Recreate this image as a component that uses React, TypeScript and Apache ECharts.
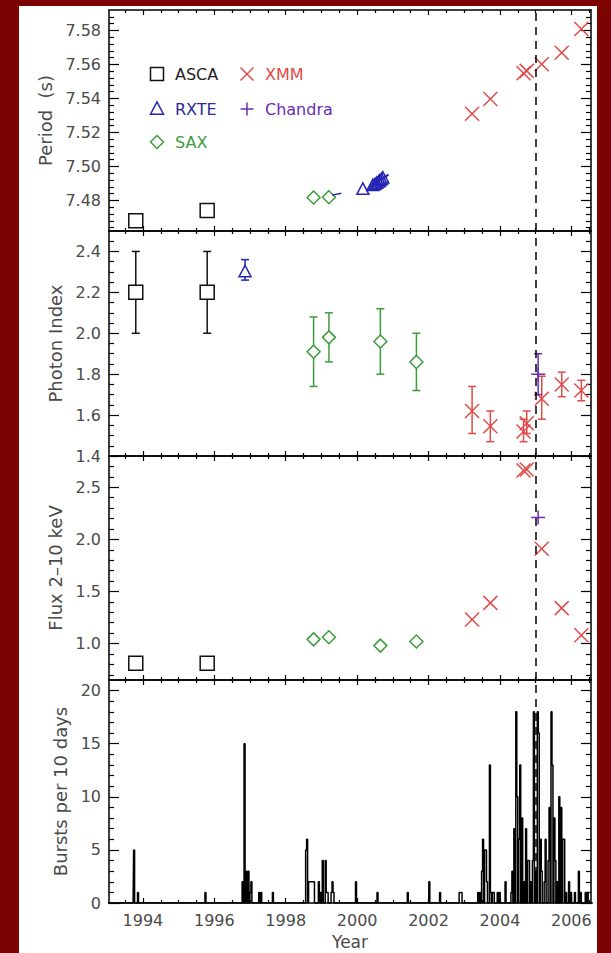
import React, { useEffect, useRef } from "react";
import * as echarts from "echarts";

// ---------- axes ----------
const YEAR_MIN = 1993.05;
const YEAR_MAX = 2006.55;
const FLARE_YEAR = 2004.99;
const yearTicks = [1994, 1996, 1998, 2000, 2002, 2004, 2006];
const yearMinorTicks = [1993.5, 1994.5, 1995, 1995.5, 1996.5, 1997, 1997.5, 1998.5, 1999, 1999.5, 2000.5, 2001, 2001.5, 2002.5, 2003, 2003.5, 2004.5, 2005, 2005.5, 2006.5];

const periodRange = [7.462, 7.592];
const periodTicks = [7.48, 7.5, 7.52, 7.54, 7.56, 7.58];
const periodMinor = [7.464, 7.468, 7.472, 7.476, 7.484, 7.488, 7.492, 7.496, 7.504, 7.508, 7.512, 7.516, 7.524, 7.528, 7.532, 7.536, 7.544, 7.548, 7.552, 7.556, 7.564, 7.568, 7.572, 7.576, 7.584, 7.588];

const indexRange = [1.4, 2.5];
const indexTicks = [1.4, 1.6, 1.8, 2.0, 2.2, 2.4];
const indexMinor = [1.45, 1.5, 1.55, 1.65, 1.7, 1.75, 1.85, 1.9, 1.95, 2.05, 2.1, 2.15, 2.25, 2.3, 2.35, 2.45];

const fluxRange = [0.65, 2.8];
const fluxTicks = [1.0, 1.5, 2.0, 2.5];
const fluxMinor = [0.7, 0.8, 0.9, 1.1, 1.2, 1.3, 1.4, 1.6, 1.7, 1.8, 1.9, 2.1, 2.2, 2.3, 2.4, 2.6, 2.7];

const burstRange = [0, 21];
const burstTicks = [0, 5, 10, 15, 20];
const burstMinor = [1, 2, 3, 4, 6, 7, 8, 9, 11, 12, 13, 14, 16, 17, 18, 19];

// ---------- data ----------
// ASCA
const ascaYears = [1993.8, 1995.8];
const ascaPeriod = [7.468, 7.474];
const ascaIndex = [2.2, 2.2];
const ascaIndexLo = [2.0, 2.0];
const ascaIndexHi = [2.4, 2.4];
const ascaFlux = [0.81, 0.81];

// RXTE
const rxtePeriodYears = [2000.16, 2000.44, 2000.5, 2000.55, 2000.6, 2000.64, 2000.68, 2000.72];
const rxtePeriod = [7.4864, 7.4886, 7.4893, 7.49, 7.4907, 7.4914, 7.4922, 7.493];
const rxteFitA = [[1999.3, 7.4831], [1999.56, 7.4842]];
const rxteFitB = [[2000.35, 7.4878], [2000.88, 7.4952]];
const rxteIndexYears = [1996.86];
const rxteIndex = [2.3];
const rxteIndexLo = [2.26];
const rxteIndexHi = [2.36];

// SAX
const saxPeriodYears = [1998.78, 1999.21];
const saxPeriod = [7.4817, 7.4819];
const saxYears = [1998.78, 1999.21, 2000.65, 2001.66];
const saxIndex = [1.91, 1.98, 1.96, 1.86];
const saxIndexLo = [1.74, 1.86, 1.8, 1.72];
const saxIndexHi = [2.08, 2.1, 2.12, 2.0];
const saxFlux = [1.04, 1.06, 0.98, 1.02];

// XMM
const xmmYears = [2003.22, 2003.73, 2004.66, 2004.75, 2005.17, 2005.73, 2006.28];
const xmmPeriod = [7.531, 7.5397, 7.5548, 7.5562, 7.5601, 7.5668, 7.5808];
const xmmIndex = [1.62, 1.545, 1.52, 1.56, 1.68, 1.75, 1.72];
const xmmIndexLo = [1.51, 1.47, 1.47, 1.51, 1.58, 1.69, 1.67];
const xmmIndexHi = [1.74, 1.62, 1.58, 1.62, 1.79, 1.81, 1.77];
const xmmFlux = [1.23, 1.39, 2.66, 2.67, 1.91, 1.34, 1.08];

// Chandra
const chandraYears = [2005.07];
const chandraIndex = [1.8];
const chandraIndexLo = [1.7];
const chandraIndexHi = [1.9];
const chandraFlux = [2.21];

// Bursts per 10-day bin (non-empty bins)
const BIN_START = 1993.0;
const BIN_DAYS = 10;
const burstYears = [
  1993.75, 1993.86,
  1995.75,
  1996.78, 1996.84, 1996.89, 1996.95, 1997.0, 1997.05,
  1997.25, 1997.3,
  1997.65,
  1998.56, 1998.6, 1998.64, 1998.67, 1998.7, 1998.73, 1998.76, 1998.79,
  1998.93, 1998.97,
  1999.05, 1999.11, 1999.14, 1999.18,
  1999.27, 1999.31, 1999.35,
  1999.98,
  2000.57,
  2001.42,
  2002.02,
  2002.32,
  2002.86, 2002.89, 2002.92,
  2003.4, 2003.44, 2003.49, 2003.53, 2003.58, 2003.62, 2003.65, 2003.71, 2003.75, 2003.8, 2003.84, 2003.95, 2003.98,
  2004.17,
  2004.31, 2004.36, 2004.41, 2004.45, 2004.49, 2004.54, 2004.58, 2004.62, 2004.67, 2004.72,
  2004.78, 2004.82, 2004.87, 2004.91, 2004.96, 2005.01, 2005.05, 2005.09, 2005.14, 2005.18,
  2005.24, 2005.29, 2005.35, 2005.39, 2005.43, 2005.48, 2005.52, 2005.56, 2005.62, 2005.67,
  2005.72, 2005.76, 2005.81, 2005.85, 2005.95, 2006.0, 2006.11, 2006.22, 2006.26, 2006.41,
  2006.45,
];
const burstCounts = [
  5, 1,
  1,
  2, 15, 3, 3, 1, 2,
  1, 1,
  1,
  5, 6, 2, 2, 2, 2, 2, 2,
  2, 1,
  4, 4, 1, 1,
  1, 2, 1,
  2,
  1,
  1,
  2,
  1,
  1, 1, 1,
  1, 1, 3, 6, 5, 5, 2, 13, 1, 1, 1, 1, 1,
  2,
  1, 3, 7, 18, 10, 6, 13, 8, 2, 7,
  4, 4, 2, 4, 18, 3, 18, 16, 6, 3,
  2, 6, 4, 9, 18, 13, 8, 4, 2, 10,
  9, 6, 6, 1, 2, 1, 1, 3, 1, 1,
  1,
];

// ---------- style ----------
const FONT = '"DejaVu Sans", sans-serif';
const TXT = "#4a4a4a";
const C_ASCA = "#111111";
const C_RXTE = "#2424b4";
const C_SAX = "#3c9c3c";
const C_XMM = "#e04a4a";
const C_CHANDRA = "#6c2cb4";

function markerChildren(shape: string, cx: number, cy: number, size: number, color: string, fill: string) {
  const h = size / 2;
  const style = { fill, stroke: color, lineWidth: 1.5 };
  const ls = { stroke: color, lineWidth: 1.5 };
  switch (shape) {
    case "square":
      return [{ type: "rect", shape: { x: cx - h, y: cy - h, width: size, height: size }, style }];
    case "triangle":
      return [{ type: "polygon", shape: { points: [[cx, cy - h * 1.1], [cx + h, cy + h * 0.8], [cx - h, cy + h * 0.8]] }, style }];
    case "diamond":
      return [{ type: "polygon", shape: { points: [[cx, cy - h], [cx + h, cy], [cx, cy + h], [cx - h, cy]] }, style }];
    case "cross":
      return [
        { type: "line", shape: { x1: cx - h, y1: cy - h, x2: cx + h, y2: cy + h }, style: ls },
        { type: "line", shape: { x1: cx - h, y1: cy + h, x2: cx + h, y2: cy - h }, style: ls },
      ];
    default:
      return [
        { type: "line", shape: { x1: cx - h, y1: cy, x2: cx + h, y2: cy }, style: ls },
        { type: "line", shape: { x1: cx, y1: cy - h, x2: cx, y2: cy + h }, style: ls },
      ];
  }
}

function pointSeries(name: string, g: number, shape: string, color: string, size: number,
  xs: number[], ys: number[], lo?: number[], hi?: number[], extra?: any) {
  const data = xs.map((x, i) => (lo && hi ? [x, ys[i], lo[i], hi[i]] : [x, ys[i]]));
  return {
    type: "custom",
    name,
    xAxisIndex: 4 * g,
    yAxisIndex: 4 * g,
    data,
    clip: true,
    encode: { x: 0, y: 1 },
    renderItem: (params: any, api: any) => {
      const x = api.value(0);
      const y = api.value(1);
      const p = api.coord([x, y]);
      const children: any[] = [];
      const hasErr = !!(lo && hi);
      if (hasErr) {
        const a = api.coord([x, api.value(2)]);
        const b = api.coord([x, api.value(3)]);
        const es = { stroke: color, lineWidth: 1.5 };
        children.push({ type: "line", shape: { x1: a[0], y1: a[1], x2: b[0], y2: b[1] }, style: es });
        children.push({ type: "line", shape: { x1: a[0] - 4, y1: a[1], x2: a[0] + 4, y2: a[1] }, style: es });
        children.push({ type: "line", shape: { x1: b[0] - 4, y1: b[1], x2: b[0] + 4, y2: b[1] }, style: es });
      }
      children.push(...markerChildren(shape, p[0], p[1], size, color, hasErr ? "#ffffff" : "none"));
      return { type: "group", children };
    },
    ...(extra || {}),
  };
}

const flareMark = {
  silent: true,
  symbol: "none",
  label: { show: false },
  lineStyle: { type: [8, 6], color: "#000", width: 1.5 },
  data: [{ xAxis: FLARE_YEAR }],
};

const gridBoxes = [
  { top: 10, height: 221 },
  { top: 231, height: 225 },
  { top: 456, height: 224 },
  { top: 680, height: 223 },
];

const lineBlack = { color: "#000", width: 1.5 };
const tickStyle = { color: "#000", width: 1.2 };

function xAxesFor(g: number, showLabels: boolean) {
  const base = { gridIndex: g, type: "value", min: YEAR_MIN, max: YEAR_MAX, splitLine: { show: false } };
  return [
    {
      ...base,
      position: "bottom",
      axisLine: { show: true, onZero: false, lineStyle: lineBlack },
      axisTick: { show: true, inside: true, length: 5, customValues: yearTicks, lineStyle: tickStyle },
      axisLabel: showLabels
        ? {
            show: true, customValues: yearTicks, margin: 9, color: TXT, fontSize: 16, fontFamily: FONT,
            formatter: (v: number) => String(Math.round(v)),
          }
        : { show: false },
      name: showLabels ? "Year" : "",
      nameLocation: "middle",
      nameGap: 30,
      nameTextStyle: { color: TXT, fontSize: 17, fontFamily: FONT },
    },
    {
      ...base,
      position: "bottom",
      axisLine: { show: false, onZero: false },
      axisTick: { show: true, inside: true, length: 3, customValues: yearMinorTicks, lineStyle: tickStyle },
      axisLabel: { show: false },
    },
    {
      ...base,
      position: "top",
      axisLine: { show: true, onZero: false, lineStyle: lineBlack },
      axisTick: { show: true, inside: true, length: 5, customValues: yearTicks, lineStyle: tickStyle },
      axisLabel: { show: false },
    },
    {
      ...base,
      position: "top",
      axisLine: { show: false, onZero: false },
      axisTick: { show: true, inside: true, length: 3, customValues: yearMinorTicks, lineStyle: tickStyle },
      axisLabel: { show: false },
    },
  ];
}

function yAxesFor(g: number, range: number[], major: number[], minor: number[], name: string, nameGap: number) {
  const base = { gridIndex: g, type: "value", min: range[0], max: range[1], splitLine: { show: false } };
  return [
    {
      ...base,
      position: "left",
      axisLine: { show: true, onZero: false, lineStyle: lineBlack },
      axisTick: { show: true, inside: true, length: 10, customValues: major, lineStyle: tickStyle },
      axisLabel: {
        show: true, customValues: major, margin: 8, color: TXT, fontSize: 16, fontFamily: FONT,
        formatter: (v: number) => (g === 3 ? String(Math.round(v)) : g === 0 ? v.toFixed(2) : v.toFixed(1)),
      },
      name,
      nameLocation: "middle",
      nameGap,
      nameTextStyle: { color: TXT, fontSize: 18, fontFamily: FONT },
    },
    {
      ...base,
      position: "left",
      axisLine: { show: false, onZero: false },
      axisTick: { show: true, inside: true, length: 5, customValues: minor, lineStyle: tickStyle },
      axisLabel: { show: false },
    },
    {
      ...base,
      position: "right",
      axisLine: { show: true, onZero: false, lineStyle: lineBlack },
      axisTick: { show: true, inside: true, length: 10, customValues: major, lineStyle: tickStyle },
      axisLabel: { show: false },
    },
    {
      ...base,
      position: "right",
      axisLine: { show: false, onZero: false },
      axisTick: { show: true, inside: true, length: 5, customValues: minor, lineStyle: tickStyle },
      axisLabel: { show: false },
    },
  ];
}

function buildHistogram() {
  const w = BIN_DAYS / 365.25;
  const n = Math.ceil((YEAR_MAX + 0.1 - BIN_START) / w);
  const counts = new Array(n).fill(0);
  burstYears.forEach((yr, i) => {
    const idx = Math.floor((yr - BIN_START) / w);
    counts[idx] = Math.max(counts[idx], burstCounts[i]);
  });
  return counts.map((c, i) => [BIN_START + (i + 0.5) * w, c]);
}

function legendGraphic() {
  const rows = [
    { shape: "square", cx: 157, cy: 74, color: C_ASCA, text: "ASCA", tx: 175, tc: "#222" },
    { shape: "cross", cx: 247, cy: 74, color: C_XMM, text: "XMM", tx: 265, tc: C_XMM },
    { shape: "triangle", cx: 157, cy: 109, color: C_RXTE, text: "RXTE", tx: 175, tc: "#2a2a9c" },
    { shape: "plus", cx: 247, cy: 109, color: C_CHANDRA, text: "Chandra", tx: 265, tc: C_CHANDRA },
    { shape: "diamond", cx: 157, cy: 142, color: C_SAX, text: "SAX", tx: 175, tc: C_SAX },
  ];
  const els: any[] = [];
  rows.forEach((r) => {
    els.push(...markerChildren(r.shape, r.cx, r.cy, 13, r.color, "none"));
    els.push({
      type: "text",
      x: r.tx,
      y: r.cy,
      style: {
        text: r.text,
        fill: r.tc,
        font: `16px ${FONT}`,
        textVerticalAlign: "middle",
        verticalAlign: "middle",
      },
    });
  });
  return els;
}

export default function App() {
  const ref = useRef<HTMLDivElement>(null);
  useEffect(() => {
    if (!ref.current) return;
    const chart = echarts.init(ref.current, undefined, { renderer: "svg" });
    const option: any = {
      animation: false,
      textStyle: { fontFamily: FONT },
      grid: gridBoxes.map((b) => ({ left: 109, right: 20, top: b.top, height: b.height, containLabel: false })),
      xAxis: [...xAxesFor(0, false), ...xAxesFor(1, false), ...xAxesFor(2, false), ...xAxesFor(3, true)],
      yAxis: [
        ...yAxesFor(0, periodRange, periodTicks, periodMinor, "Period  (s)", 53),
        ...yAxesFor(1, indexRange, indexTicks, indexMinor, "Photon Index", 45),
        ...yAxesFor(2, fluxRange, fluxTicks, fluxMinor, "Flux 2\u201310 keV", 45),
        ...yAxesFor(3, burstRange, burstTicks, burstMinor, "Bursts per 10 days", 38),
      ],
      graphic: legendGraphic(),
      series: [
        // Period panel
        pointSeries("ASCA", 0, "square", C_ASCA, 14, ascaYears, ascaPeriod),
        pointSeries("SAX", 0, "diamond", C_SAX, 13, saxPeriodYears, saxPeriod),
        pointSeries("RXTE", 0, "triangle", C_RXTE, 12, rxtePeriodYears, rxtePeriod),
        { type: "line", xAxisIndex: 0, yAxisIndex: 0, data: rxteFitA, symbol: "none", lineStyle: { color: C_RXTE, width: 1.5 } },
        { type: "line", xAxisIndex: 0, yAxisIndex: 0, data: rxteFitB, symbol: "none", lineStyle: { color: C_RXTE, width: 2 } },
        pointSeries("XMM", 0, "cross", C_XMM, 14, xmmYears, xmmPeriod, undefined, undefined, { markLine: flareMark }),
        // Photon index panel
        pointSeries("ASCA", 1, "square", C_ASCA, 14, ascaYears, ascaIndex, ascaIndexLo, ascaIndexHi),
        pointSeries("RXTE", 1, "triangle", C_RXTE, 12, rxteIndexYears, rxteIndex, rxteIndexLo, rxteIndexHi),
        pointSeries("SAX", 1, "diamond", C_SAX, 13, saxYears, saxIndex, saxIndexLo, saxIndexHi),
        pointSeries("XMM", 1, "cross", C_XMM, 14, xmmYears, xmmIndex, xmmIndexLo, xmmIndexHi, { markLine: flareMark }),
        pointSeries("Chandra", 1, "plus", C_CHANDRA, 14, chandraYears, chandraIndex, chandraIndexLo, chandraIndexHi),
        // Flux panel
        pointSeries("ASCA", 2, "square", C_ASCA, 14, ascaYears, ascaFlux),
        pointSeries("SAX", 2, "diamond", C_SAX, 13, saxYears, saxFlux),
        pointSeries("XMM", 2, "cross", C_XMM, 14, xmmYears, xmmFlux, undefined, undefined, { markLine: flareMark }),
        pointSeries("Chandra", 2, "plus", C_CHANDRA, 14, chandraYears, chandraFlux),
        // Burst histogram
        {
          type: "line",
          name: "Bursts",
          xAxisIndex: 12,
          yAxisIndex: 12,
          data: buildHistogram(),
          step: "middle",
          symbol: "none",
          clip: true,
          lineStyle: { color: "#000", width: 1.5 },
          markLine: flareMark,
        },
      ],
    };
    chart.setOption(option);
    return () => chart.dispose();
  }, []);

  return (
    <div style={{ position: "fixed", left: 0, top: 0, width: 611, height: 953, background: "#7d0303" }}>
      <div style={{ position: "absolute", left: 19, top: 6, width: 578, height: 947, background: "#ffffff" }} />
      <div ref={ref} style={{ position: "absolute", left: 0, top: 0, width: 611, height: 953 }} />
    </div>
  );
}
